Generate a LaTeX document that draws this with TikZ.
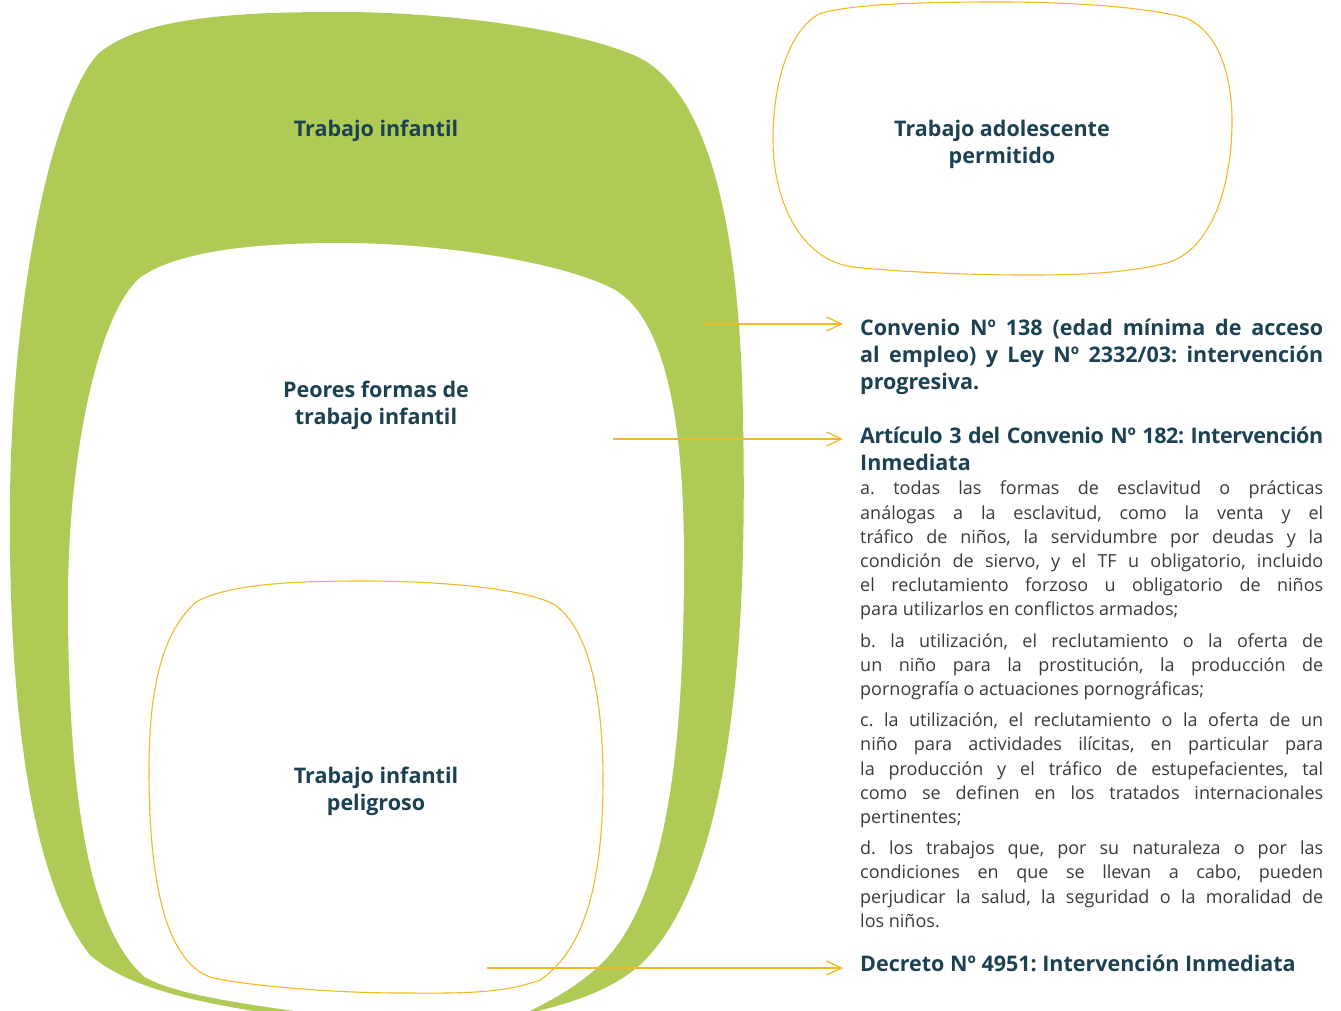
\documentclass[tikz,border=0pt]{standalone}
\usepackage{fontspec}
\setmainfont{Open Sans}
\usetikzlibrary{arrows.meta}
\definecolor{verde}{HTML}{B0CB55}
\definecolor{naranja}{HTML}{F2B925}
\definecolor{texto}{HTML}{1B4152}
\definecolor{gris}{HTML}{3A3A3A}
\begin{document}
\frenchspacing
\begin{tikzpicture}[x=1pt,y=-1pt,
  titulo/.style={font=\bfseries\fontsize{21.5}{27}\selectfont, text=texto, align=center, inner sep=0pt},
  cuerpo/.style={text=texto, text width=463pt, align=justify, inner sep=0pt, anchor=north west},
  caja/.style={draw=naranja, line width=1.1pt},
  flecha/.style={draw=naranja, line width=1.3pt, -{Straight Barb[length=15pt,width=14pt,line width=1.3pt]}}
]
\useasboundingbox (0,0) rectangle (1341,1011);
\begin{scope}
\clip (0,0) rectangle (1341,1011);
\fill[verde] (97,55) .. controls (140,15) and (250,12) .. (340,12)
  .. controls (450,12) and (580,30) .. (640,58)
  .. controls (700,90) and (740,200) .. (743,420)
  .. controls (748,650) and (730,880) .. (640,965)
  .. controls (600,1000) and (540,1010) .. (500,1020) -- (360,1026)
  .. controls (240,1010) and (140,998) .. (90,955)
  .. controls (30,880) and (8,700) .. (10,500)
  .. controls (12,300) and (50,110) .. (97,55) -- cycle;
\fill[white] (141,277) .. controls (180,250) and (260,243) .. (340,243)
  .. controls (450,243) and (570,265) .. (615,290)
  .. controls (665,320) and (684,420) .. (684,560)
  .. controls (684,780) and (660,900) .. (605,960)
  .. controls (570,995) and (530,1010) .. (500,1025) -- (360,1020)
  .. controls (260,1006) and (180,997) .. (145,977)
  .. controls (90,930) and (68,800) .. (68,600)
  .. controls (68,450) and (100,310) .. (141,277) -- cycle;
\end{scope}
\draw[caja] (196,602) .. controls (230,583) and (300,581) .. (364,581)
  .. controls (450,581) and (530,590) .. (555,605)
  .. controls (590,630) and (603,700) .. (603,780)
  .. controls (603,880) and (585,950) .. (540,980)
  .. controls (500,995) and (450,993) .. (400,993)
  .. controls (330,993) and (240,985) .. (210,977)
  .. controls (165,960) and (149,880) .. (149,770)
  .. controls (149,680) and (165,630) .. (196,602) -- cycle;
\draw[caja] (819,14) .. controls (850,4) and (920,2) .. (1000,2)
  .. controls (1080,2) and (1150,8) .. (1186,18)
  .. controls (1225,35) and (1232,90) .. (1232,120)
  .. controls (1232,190) and (1210,250) .. (1167,263)
  .. controls (1120,275) and (1060,275) .. (1027,275)
  .. controls (950,275) and (880,270) .. (853,267)
  .. controls (800,260) and (773,200) .. (773,140)
  .. controls (773,80) and (790,30) .. (819,14) -- cycle;

\node[titulo] (ti) at (376,131) {Trabajo infantil};
\node[titulo] (pf) at (376,405.5) {Peores formas de\\trabajo infantil};
\node[titulo] (tip) at (376,791) {Trabajo infantil\\peligroso};
\node[titulo] (tap) at (1002,144.5) {Trabajo adolescente\\permitido};

\node[cuerpo, font=\bfseries\fontsize{21.5}{27}\selectfont] (h1) at (860,319) {Convenio Nº 138 (edad mínima de acceso\linebreak al empleo) y Ley Nº 2332/03: intervención\linebreak progresiva.\par};
\node[cuerpo] (h2) at (860,427) {{\bfseries\fontsize{21.5}{27}\selectfont{\addfontfeatures{LetterSpace=-2}\spaceskip=0.08em plus 0.1em minus 0.05em Artículo 3 del Convenio Nº 182: Intervención}\linebreak Inmediata\par}
\fontsize{18}{24.2}\selectfont\color{gris}%
a. todas las formas de esclavitud o prácticas\linebreak análogas a la esclavitud, como la venta y el\linebreak tráfico de niños, la servidumbre por deudas y la\linebreak condición de siervo, y el TF u obligatorio, incluido\linebreak el reclutamiento forzoso u obligatorio de niños\linebreak para utilizarlos en conflictos armados;\par\vspace{7pt}
b. la utilización, el reclutamiento o la oferta de\linebreak un niño para la prostitución, la producción de\linebreak pornografía o actuaciones pornográficas;\par\vspace{7pt}
c. la utilización, el reclutamiento o la oferta de un\linebreak niño para actividades ilícitas, en particular para\linebreak la producción y el tráfico de estupefacientes, tal\linebreak como se definen en los tratados internacionales\linebreak pertinentes;\par\vspace{7pt}
d. los trabajos que, por su naturaleza o por las\linebreak condiciones en que se llevan a cabo, pueden\linebreak perjudicar la salud, la seguridad o la moralidad de\linebreak los niños.\par};
\node[cuerpo, font=\bfseries\fontsize{21.5}{27}\selectfont] (h3) at (860,955) {Decreto Nº 4951: Intervención Inmediata\par};

\coordinate (s1) at (705,324);
\coordinate (s2) at (613,439);
\coordinate (s3) at (487,968);
\draw[flecha] (s1) -- ([xshift=-17pt]s1 -| h1.west);
\draw[flecha] (s2) -- ([xshift=-17pt]s2 -| h2.west);
\draw[flecha] (s3) -- ([xshift=-17pt]s3 -| h3.west);
\end{tikzpicture}
\end{document}
